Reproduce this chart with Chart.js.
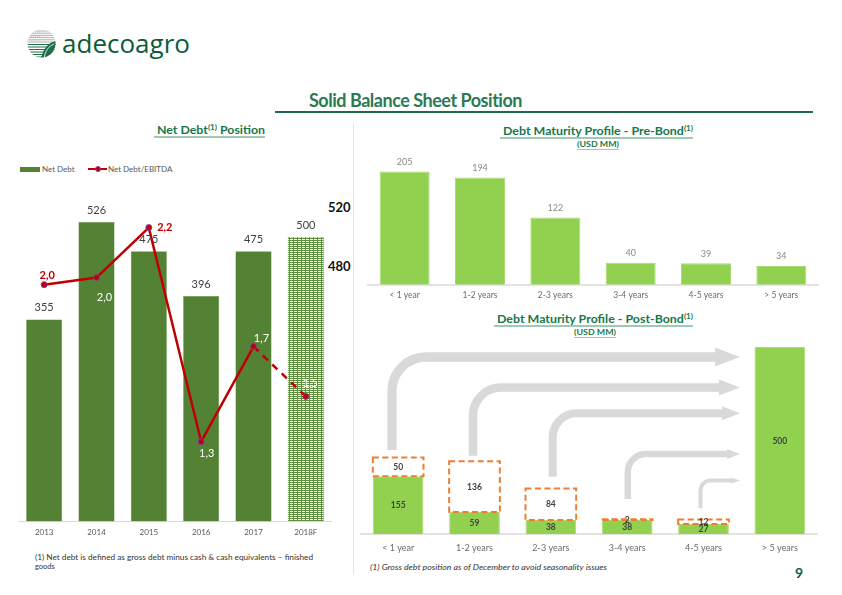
<!DOCTYPE html>
<html><head><meta charset="utf-8">
<script src="https://cdn.jsdelivr.net/npm/chart.js@4.4.0/dist/chart.umd.min.js"></script>
<style>
html,body{margin:0;padding:0;background:#fff;}
body{width:842px;height:595px;position:relative;overflow:hidden;font-family:Lato,'Open Sans',sans-serif;}
.t{position:absolute;white-space:nowrap;transform-origin:0 50%;}
canvas{position:absolute;}
.ttl{font-weight:700;color:#17774a;text-decoration:underline;text-decoration-color:#9fc9b2;text-decoration-thickness:1.5px;text-underline-offset:2px;}
sup{font-size:65%;line-height:0;vertical-align:0.55em;}
</style></head><body>

<!-- logo -->
<svg style="position:absolute;left:27px;top:29px" width="29" height="29" viewBox="0 0 29 29">
<defs><clipPath id="cc"><circle cx="14.5" cy="14.5" r="14"/></clipPath></defs>
<g clip-path="url(#cc)">
<rect x="0" y="0" width="29" height="29" fill="#fff"/>
<g stroke="#9a9a9a" stroke-width="0.8">
<line x1="0" y1="2" x2="29" y2="2"/><line x1="0" y1="4.2" x2="29" y2="4.2"/><line x1="0" y1="6.4" x2="29" y2="6.4"/>
<line x1="0" y1="8.6" x2="29" y2="8.6"/><line x1="0" y1="10.8" x2="29" y2="10.8"/><line x1="0" y1="13" x2="29" y2="13"/>
</g>
<g stroke="#bcbcbc" stroke-width="0.6" stroke-dasharray="1 1"><line x1="0" y1="3.1" x2="14" y2="3.1"/><line x1="0" y1="7.5" x2="14" y2="7.5"/><line x1="0" y1="11.9" x2="14" y2="11.9"/></g>
<g stroke="#1e6e47" stroke-width="1.2">
<line x1="0" y1="15.5" x2="29" y2="15.5"/><line x1="0" y1="18" x2="29" y2="18"/><line x1="0" y1="20.5" x2="29" y2="20.5"/>
<line x1="0" y1="23" x2="29" y2="23"/><line x1="0" y1="25.5" x2="29" y2="25.5"/><line x1="0" y1="28" x2="29" y2="28"/>
</g>
<path d="M29 12 Q18 14 14 29 L29 29 Z" fill="#1e6e47"/>
<path d="M27 15 Q19 18 17 29" stroke="#fff" stroke-width="0.8" fill="none"/>
</g></svg>
<div class="t" data-w="128" style="left:62px;top:28px;font-family:'Open Sans';font-size:25px;line-height:30px;color:#0b5c3a;">adecoagro</div>

<!-- slide title -->
<div class="t" data-w="213" style="left:309px;top:88px;font-size:19px;line-height:23px;font-weight:700;color:#2b7a52;letter-spacing:-0.5px;">Solid Balance Sheet Position</div>
<div style="position:absolute;left:275px;top:110.5px;width:538px;height:2px;background:#1e6b47;"></div>

<!-- left panel -->
<div class="t ttl" data-w="111" style="left:154px;top:123px;font-size:11px;line-height:14px;">&nbsp;Net Debt<sup>(1)</sup> Position</div>
<div style="position:absolute;left:20px;top:166.5px;width:20px;height:5px;background:#548235;"></div>
<div class="t" style="left:42px;top:164px;font-size:8px;line-height:10px;color:#595959;">Net Debt</div>
<div style="position:absolute;left:88px;top:168px;width:19px;height:2px;background:#C00000;"></div>
<div style="position:absolute;left:94.5px;top:166px;width:4px;height:4px;border-radius:50%;background:#C00000;border:1px solid #7a3fa0;"></div>
<div class="t" style="left:108px;top:164px;font-size:8px;line-height:10px;color:#595959;">Net Debt/EBITDA</div>
<div class="t" style="left:328px;top:199px;font-size:13px;line-height:16px;font-weight:700;color:#111;">520</div>
<div class="t" style="left:328px;top:257.5px;font-size:13px;line-height:16px;font-weight:700;color:#111;">480</div>
<div style="position:absolute;left:353px;top:124px;width:1px;height:451px;background:#e4e4e4;"></div>
<div class="t" data-w="278" style="left:35px;top:552.5px;font-size:7.5px;line-height:9.5px;color:#333;">(1) Net debt is defined as gross debt minus cash &amp; cash equivalents – finished</div>
<div class="t" style="left:35px;top:562px;font-size:7.5px;line-height:9.5px;color:#333;">goods</div>

<!-- right panels -->
<div class="t ttl" data-w="193" style="left:500px;top:124px;font-size:11px;line-height:14px;">&nbsp;Debt Maturity Profile - Pre-Bond<sup>(1)</sup></div>
<div class="t ttl" data-w="42" style="left:576.5px;top:139.5px;font-size:7.5px;line-height:9px;text-decoration-thickness:1px;">(USD MM)</div>
<div class="t ttl" data-w="199" style="left:494px;top:312px;font-size:11px;line-height:14px;">&nbsp;Debt Maturity Profile - Post-Bond<sup>(1)</sup></div>
<div class="t ttl" data-w="42" style="left:573.5px;top:327.5px;font-size:7.5px;line-height:9px;text-decoration-thickness:1px;">(USD MM)</div>
<div class="t" data-w="237" style="left:370px;top:562.5px;font-size:7.5px;line-height:9.5px;color:#333;font-style:italic;">(1) Gross debt position as of December to avoid seasonality issues</div>
<div class="t" style="left:795px;top:563.5px;font-size:14px;line-height:17px;font-weight:700;color:#0e5e3c;">9</div>

<canvas id="c1" width="314" height="363" style="left:18px;top:180px;"></canvas>
<canvas id="c2" width="452" height="156" style="left:367px;top:150px;"></canvas>
<canvas id="c3" width="458" height="221" style="left:360px;top:340px;"></canvas>

<script>
// ---------- data ----------
const years = ['2013', '2014', '2015', '2016', '2017', '2018F'];
const netDebt = [355, 526, 475, 396, 475, 500];
const netDebtEbitda = [1.96, 1.99, 2.2, 1.3, 1.7, 1.49];
const maturityCats = ['< 1 year', '1-2 years', '2-3 years', '3-4 years', '4-5 years', '> 5 years'];
const preBond = [205, 194, 122, 40, 39, 34];
const postBondRemaining = [155, 59, 38, 38, 27, 500];
const postBondRefinanced = [50, 136, 84, 2, 12, 0];

// ---------- style helpers ----------
const lineLabelOffsets = [[3,-9],[8,19.5],[16,0],[5.5,12],[8,-8.5],[4.5,-13.5]];
const lineLabelColors = ['#C00000','#ffffff','#C00000','#ffffff','#ffffff','#ffffff'];
const fmt1 = v => v.toFixed(1).replace('.', ',');

function fitTexts(){
  document.querySelectorAll('[data-w]').forEach(el=>{
    el.style.transform='none';
    const w = el.getBoundingClientRect().width;
    const tw = parseFloat(el.dataset.w);
    if (w>0) el.style.transform='scaleX('+(tw/w)+')';
  });
}
fitTexts();
if (document.fonts && document.fonts.ready) document.fonts.ready.then(fitTexts);

// pattern for forecast bar (green rows with white dashes)
const pc = document.createElement('canvas'); pc.width = 4; pc.height = 2;
const pctx = pc.getContext('2d');
pctx.fillStyle = '#5e8f3e'; pctx.fillRect(0,0,4,2);
pctx.fillStyle = '#ffffff'; pctx.fillRect(0,1,3,1);
const hatch = document.getElementById('c1').getContext('2d').createPattern(pc,'repeat');

Chart.defaults.font.family = 'Lato';
Chart.defaults.animation = false;

// ---------- chart 1 ----------
const lbl1 = {
  id:'lbl1',
  afterDatasetsDraw(chart){
    const ctx = chart.ctx;
    ctx.save();
    ctx.textAlign='center'; ctx.textBaseline='middle';
    const bars = chart.getDatasetMeta(1).data;
    ctx.font = '11px Lato'; ctx.fillStyle = '#404040';
    bars.forEach((b,i)=>{ ctx.fillText(String(netDebt[i]), b.x, b.y-11.5); });
    const pts = chart.getDatasetMeta(0).data;
    pts.forEach((p,i)=>{
      const o = lineLabelOffsets[i];
      ctx.font = (lineLabelColors[i]==='#C00000' ? 'bold ' : '') + '11px Lato';
      ctx.fillStyle = lineLabelColors[i];
      ctx.fillText(fmt1(netDebtEbitda[i]), p.x+o[0], p.y+o[1]);
    });
    ctx.restore();
  }
};
new Chart(document.getElementById('c1'), {
  type:'bar',
  data:{ labels: years, datasets:[
    { type:'line', label:'Net Debt/EBITDA', data: netDebtEbitda, yAxisID:'y2', order:0,
      borderColor:'#C00000', borderWidth:2.5, tension:0,
      pointRadius:3, pointBackgroundColor:'#C00000', pointBorderColor:'#7a3fa0', pointBorderWidth:1,
      segment:{ borderDash: c => c.p1DataIndex===5 ? [7,6] : undefined } },
    { type:'bar', label:'Net Debt', data: netDebt, yAxisID:'y', order:1,
      backgroundColor:['#548235','#548235','#548235','#548235','#548235',hatch],
      borderColor:['#5e8d3f','#5e8d3f','#5e8d3f','#5e8d3f','#5e8d3f','#4f7f30'], borderWidth:0.5,
      categoryPercentage:1, barPercentage:0.69 }
  ]},
  options:{ responsive:false, maintainAspectRatio:false, layout:{padding:0, autoPadding:false},
    plugins:{legend:{display:false}, tooltip:{enabled:false}},
    scales:{
      x:{ grid:{display:false, drawTicks:false}, border:{display:true,color:'#d9d9d9',width:1},
          ticks:{color:'#595959', font:{size:8}, padding:6} },
      y:{ display:false, min:0, max:600 },
      y2:{ display:false, min:0.965, max:2.40 }
    }
  },
  plugins:[lbl1]
});

// ---------- chart 2 ----------
const lbl2 = {
  id:'lbl2',
  afterDatasetsDraw(chart){
    const ctx=chart.ctx; ctx.save();
    ctx.textAlign='center'; ctx.textBaseline='middle';
    ctx.font='9px Lato'; ctx.fillStyle='#8a8a8a';
    chart.getDatasetMeta(0).data.forEach((b,i)=>ctx.fillText(String(preBond[i]), b.x, b.y-9.5));
    ctx.restore();
  }
};
new Chart(document.getElementById('c2'), {
  type:'bar',
  data:{ labels: maturityCats, datasets:[
    { label:'Pre-Bond', data: preBond, backgroundColor:'#92D050', borderColor:'#a9dc74', borderWidth:1,
      categoryPercentage:1, barPercentage:0.664 }
  ]},
  options:{ responsive:false, maintainAspectRatio:false, layout:{padding:0, autoPadding:false},
    plugins:{legend:{display:false}, tooltip:{enabled:false}},
    scales:{
      x:{ grid:{display:false, drawTicks:false}, border:{display:true,color:'#e3e3e3',width:2},
          ticks:{color:'#6b6b6b', font:{size:8.5}, padding:5.5} },
      y:{ display:false, min:0, max:244 }
    }
  },
  plugins:[lbl2]
});

// ---------- chart 3 ----------
const arrowStyles = [
  {x:392,   bottom:450,   y:357,   w:9.3, r:34, hl:25, hh:19},
  {x:473,   bottom:455.7, y:387.5, w:8.5, r:28, hl:21, hh:16},
  {x:552.7, bottom:476.7, y:413.3, w:8,   r:24, hl:18, hh:14},
  {x:627.8, bottom:499,   y:454,   w:6.5, r:18, hl:13, hh:10},
  {x:700.5, bottom:508.3, y:480.5, w:4,   r:10, hl:9,  hh:6}
];
const arrowTip = 740, c3Left = 360, c3Top = 340;
const arrows3 = {
  id:'arrows3',
  beforeDatasetsDraw(chart){
    const ctx=chart.ctx; ctx.save();
    ctx.strokeStyle='#d9d9d9'; ctx.fillStyle='#d9d9d9'; ctx.lineCap='butt';
    arrowStyles.forEach(a=>{
      const x=a.x-c3Left, b=a.bottom-c3Top, y=a.y-c3Top, tip=arrowTip-c3Left;
      ctx.lineWidth=a.w;
      ctx.beginPath();
      ctx.moveTo(x,b); ctx.lineTo(x,y+a.r);
      ctx.arcTo(x,y,x+a.r,y,a.r);
      ctx.lineTo(tip-a.hl+0.5,y);
      ctx.stroke();
      ctx.beginPath();
      ctx.moveTo(tip-a.hl,y-a.hh/2); ctx.lineTo(tip,y); ctx.lineTo(tip-a.hl,y+a.hh/2); ctx.closePath();
      ctx.fill();
    });
    ctx.restore();
  },
  afterDatasetsDraw(chart){
    const ctx=chart.ctx; ctx.save();
    const ref = chart.getDatasetMeta(1).data;
    ctx.strokeStyle='#ED7D31'; ctx.lineWidth=2; ctx.setLineDash([6,3.5]);
    ref.forEach((el,i)=>{
      if(!postBondRefinanced[i]) return;
      const p = el.getProps(['x','y','base','width'], true);
      ctx.strokeRect(p.x-p.width/2, p.y, p.width, p.base-p.y);
    });
    ctx.setLineDash([]);
    ctx.textAlign='center'; ctx.textBaseline='middle';
    ctx.font='bold 8.5px Lato'; ctx.fillStyle='#404040';
    chart.getDatasetMeta(0).data.forEach((el,i)=>{
      const p = el.getProps(['x','y','base'], true);
      ctx.fillText(String(postBondRemaining[i]), p.x, (p.y+p.base)/2+0.5);
    });
    ref.forEach((el,i)=>{
      if(!postBondRefinanced[i]) return;
      const p = el.getProps(['x','y','base'], true);
      ctx.fillText(String(postBondRefinanced[i]), p.x, (p.y+p.base)/2+0.5);
    });
    ctx.restore();
  }
};
new Chart(document.getElementById('c3'), {
  type:'bar',
  data:{ labels: maturityCats, datasets:[
    { label:'Post-Bond', data: postBondRemaining, backgroundColor:'#92D050', borderColor:'#a9dc74', borderWidth:1,
      categoryPercentage:1, barPercentage:0.664, stack:'s' },
    { label:'Refinanced', data: postBondRefinanced, backgroundColor:'#ffffff', borderWidth:0,
      categoryPercentage:1, barPercentage:0.664, stack:'s' }
  ]},
  options:{ responsive:false, maintainAspectRatio:false, layout:{padding:0, autoPadding:false},
    plugins:{legend:{display:false}, tooltip:{enabled:false}},
    scales:{
      x:{ stacked:true, grid:{display:false, drawTicks:false}, border:{display:true,color:'#e3e3e3',width:2},
          ticks:{color:'#6b6b6b', font:{size:9}, padding:8} },
      y:{ stacked:true, display:false, min:0, max:519 }
    }
  },
  plugins:[arrows3]
});
</script>
</body></html>
